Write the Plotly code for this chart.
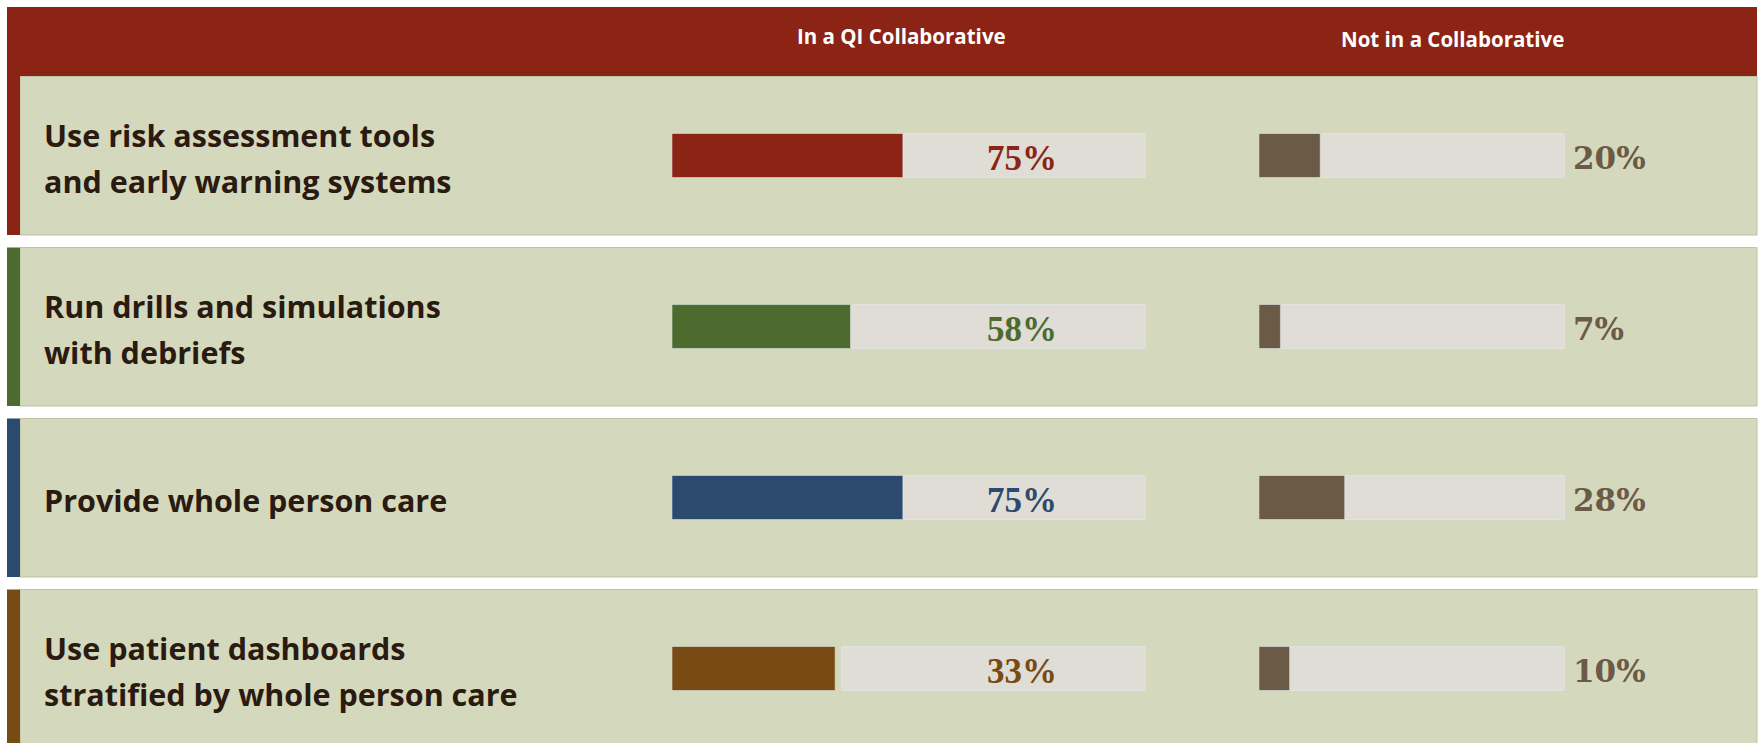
import plotly.graph_objects as go

# ---------------- data ----------------
practices = [
    "Use risk assessment tools<br>and early warning systems",
    "Run drills and simulations<br>with debriefs",
    "Provide whole person care",
    "Use patient dashboards<br>stratified by whole person care",
]
in_collab_labels = ["75%", "58%", "75%", "33%"]
# bar lengths as drawn in the picture (left track scale)
in_collab_drawn = [75, 58, 75, 53]
not_in_collab = [20, 7, 28, 10]
not_in_labels = ["20%", "7%", "28%", "10%"]
headers = ["In a QI Collaborative", "Not in a Collaborative"]

# ---------------- style ----------------
W, H = 1759, 743
RED = "#8B2415"
row_colors = ["#8B2415", "#4D6B2E", "#2C4A6E", "#784A14"]
GREY_BROWN = "#6B5A45"
PANEL = "#D4D8BC"
PANEL_LINE = "#BEC4A4"
TRACK = "#DFDDD5"
TITLE_COL = "#2A1A10"
LEFT_MAX = 154
GAPS = [0, 0, 0, 2]

ROW0 = 155.5
PITCH = 171.0
Y_TOP = -ROW0 / PITCH
Y_BOT = Y_TOP + H / PITCH
BAR_W = 44 / PITCH


def px(x):
    return x / W


def py(y):
    return 1 - y / H


fig = go.Figure()

track_start = [v + g for v, g in zip(in_collab_drawn, GAPS)]
fig.add_trace(go.Bar(
    y=practices, x=[LEFT_MAX - s for s in track_start], base=track_start,
    orientation="h", width=BAR_W, marker=dict(color=TRACK, cornerradius=2),
    xaxis="x", yaxis="y", hoverinfo="skip", showlegend=False))
fig.add_trace(go.Bar(
    y=practices, x=in_collab_drawn, orientation="h", width=BAR_W,
    marker=dict(color=row_colors, cornerradius=2),
    xaxis="x", yaxis="y", hoverinfo="skip", showlegend=False))
fig.add_trace(go.Bar(
    y=practices, x=[100] * len(practices), orientation="h", width=BAR_W,
    marker=dict(color=TRACK, cornerradius=2),
    xaxis="x2", yaxis="y", hoverinfo="skip", showlegend=False))
fig.add_trace(go.Bar(
    y=practices, x=not_in_collab, orientation="h", width=BAR_W,
    marker=dict(color=GREY_BROWN, cornerradius=2),
    xaxis="x2", yaxis="y", hoverinfo="skip", showlegend=False))

shapes = []
# header band
shapes.append(dict(type="rect", xref="paper", yref="paper", layer="below",
                   x0=px(7), x1=px(1757), y0=py(76.5), y1=py(7),
                   fillcolor=RED, line=dict(width=0)))
for i in range(len(practices)):
    c = ROW0 + PITCH * i
    top, bot = c - 79, c + 79.5
    shapes.append(dict(type="rect", xref="paper", yref="paper", layer="below",
                       x0=px(20), x1=px(1757), y0=py(bot), y1=py(top),
                       fillcolor=PANEL, line=dict(color=PANEL_LINE, width=1)))
    stop = 7 if i == 0 else top
    shapes.append(dict(type="rect", xref="paper", yref="paper", layer="below",
                       x0=px(7), x1=px(20), y0=py(bot), y1=py(stop),
                       fillcolor=row_colors[i], line=dict(width=0)))

ann = []
ann.append(dict(text=headers[0], x=px(901), y=py(36), xref="paper", yref="paper",
                showarrow=False, xanchor="center", yanchor="middle",
                font=dict(family="Open Sans", size=20.5, color="white", weight="bold")))
ann.append(dict(text=headers[1], x=px(1452), y=py(39), xref="paper", yref="paper",
                showarrow=False, xanchor="center", yanchor="middle",
                font=dict(family="Open Sans", size=20.5, color="white", weight="bold")))

for i, name in enumerate(practices):
    lines = name.split("<br>")
    n = len(lines)
    for j, ln in enumerate(lines):
        shift = (j - (n - 1) / 2) * 46
        ann.append(dict(text=ln, x=px(42), y=name, xref="paper", yref="y",
                        yshift=-shift - 2, showarrow=False, xanchor="left", yanchor="middle",
                        font=dict(family="Open Sans", size=30.5, color=TITLE_COL, weight="bold")))
    ann.append(dict(text=in_collab_labels[i], x=px(985), y=name, xref="paper", yref="y",
                    yshift=-3, showarrow=False, xanchor="left", yanchor="middle",
                    font=dict(family="Liberation Serif", size=35, color=row_colors[i],
                              weight="bold")))
    ann.append(dict(text=not_in_labels[i], x=px(1571), y=name, xref="paper", yref="y",
                    yshift=-2, showarrow=False, xanchor="left", yanchor="middle",
                    font=dict(family="DejaVu Serif", size=31, color=GREY_BROWN,
                              weight="bold")))

fig.update_layout(
    width=W, height=H, margin=dict(l=0, r=0, t=0, b=0),
    paper_bgcolor="white", plot_bgcolor="rgba(0,0,0,0)",
    barmode="overlay",
    xaxis=dict(domain=[px(672), px(1146)], range=[0, LEFT_MAX], visible=False,
               fixedrange=True),
    xaxis2=dict(domain=[px(1259), px(1565)], range=[0, 100], visible=False,
                anchor="y", fixedrange=True),
    yaxis=dict(categoryorder="array", categoryarray=practices,
               range=[Y_BOT, Y_TOP], visible=False, fixedrange=True),
    shapes=shapes, annotations=ann,
)

fig.write_html("out.html")
